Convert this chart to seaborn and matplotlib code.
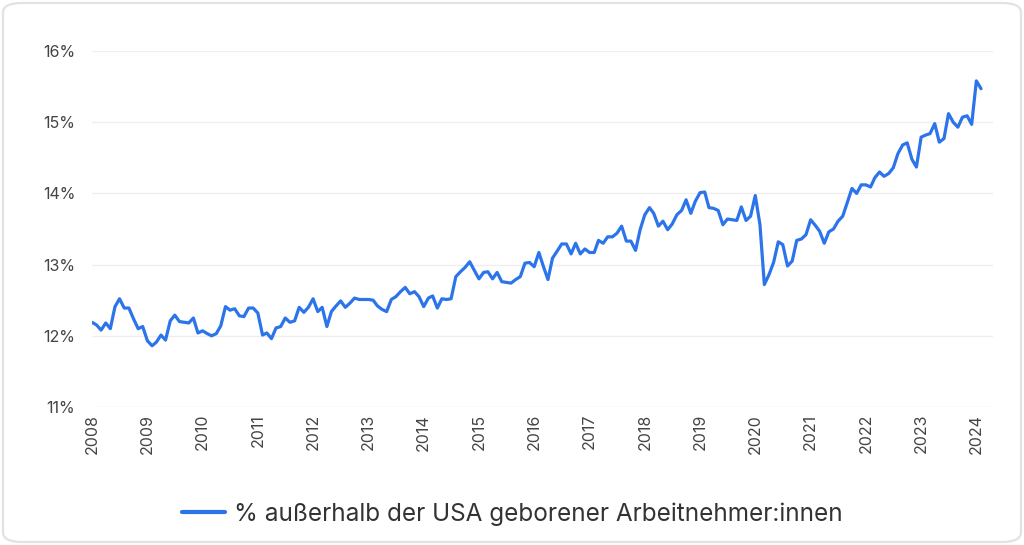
import matplotlib
matplotlib.use("Agg")
import matplotlib.pyplot as plt
from matplotlib.patches import FancyBboxPatch
import seaborn as sns
import pandas as pd

# ---- data (monthly, Jan 2008 - Feb 2024), share in % ----
v2008 = [12.19, 12.15, 12.08, 12.18, 12.10, 12.41, 12.52, 12.39, 12.39, 12.24, 12.10, 12.13]
v2009 = [11.93, 11.86, 11.91, 12.01, 11.94, 12.21, 12.29, 12.20, 12.19, 12.18, 12.25, 12.04]
v2010 = [12.07, 12.03, 12.00, 12.03, 12.14, 12.41, 12.36, 12.38, 12.28, 12.27, 12.39, 12.39]
v2011 = [12.32, 12.01, 12.04, 11.96, 12.11, 12.13, 12.25, 12.19, 12.21, 12.40, 12.33, 12.40]
v2012 = [12.52, 12.34, 12.40, 12.13, 12.34, 12.42, 12.49, 12.40, 12.46, 12.53, 12.51, 12.51]
v2013 = [12.51, 12.50, 12.42, 12.37, 12.34, 12.51, 12.55, 12.62, 12.68, 12.59, 12.62, 12.55]
v2014 = [12.41, 12.53, 12.56, 12.39, 12.52, 12.51, 12.52, 12.83, 12.90, 12.96, 13.04, 12.92]
v2015 = [12.80, 12.89, 12.90, 12.80, 12.89, 12.76, 12.75, 12.74, 12.79, 12.83, 13.02, 13.03]
v2016 = [12.97, 13.17, 12.98, 12.79, 13.09, 13.19, 13.29, 13.29, 13.15, 13.30, 13.15, 13.22]
v2017 = [13.17, 13.17, 13.34, 13.30, 13.39, 13.39, 13.44, 13.54, 13.33, 13.33, 13.20, 13.49]
v2018 = [13.70, 13.80, 13.72, 13.54, 13.61, 13.49, 13.57, 13.70, 13.76, 13.91, 13.72, 13.89]
v2019 = [14.01, 14.02, 13.80, 13.79, 13.76, 13.56, 13.64, 13.63, 13.62, 13.81, 13.62, 13.68]
v2020 = [13.97, 13.56, 12.72, 12.86, 13.03, 13.32, 13.28, 12.98, 13.05, 13.34, 13.36, 13.42]
v2021 = [13.63, 13.55, 13.47, 13.30, 13.46, 13.50, 13.61, 13.68, 13.88, 14.07, 14.00, 14.12]
v2022 = [14.12, 14.09, 14.22, 14.30, 14.24, 14.28, 14.36, 14.56, 14.68, 14.71, 14.48, 14.37]
v2023 = [14.79, 14.82, 14.84, 14.98, 14.72, 14.77, 15.12, 15.00, 14.93, 15.07, 15.09, 14.97]
v2024 = [15.58, 15.47]

series_label = "% außerhalb der USA geborener Arbeitnehmer:innen"
year_ticks = list(range(2008, 2025))
y_ticks = [11, 12, 13, 14, 15, 16]

values = (v2008 + v2009 + v2010 + v2011 + v2012 + v2013 + v2014 + v2015 +
          v2016 + v2017 + v2018 + v2019 + v2020 + v2021 + v2022 + v2023 + v2024)
dates = pd.date_range("2008-01-01", periods=len(values), freq="MS")
df = pd.DataFrame({"date": dates, "value": values})

sns.set_theme(style="white")
plt.rcParams["font.family"] = ["Inter", "DejaVu Sans"]

W, H = 1024, 545
fig = plt.figure(figsize=(W / 100, H / 100), dpi=100)
fig.patch.set_facecolor("white")

# rounded border around the card
border = FancyBboxPatch((3 / W, 3 / H), (W - 6) / W, (H - 6) / H,
                        boxstyle="round,pad=0,rounding_size=0.018",
                        transform=fig.transFigure, facecolor="none",
                        edgecolor="#e2e2e2", linewidth=1.6, zorder=-5)
fig.patches.append(border)

left, right = 92 / W, 993 / W
top, bottom = 1 - 51 / H, 1 - 407 / H
ax = fig.add_axes([left, bottom, right - left, top - bottom], zorder=2)
ax.set_facecolor("none")

line_color = "#2c74ea"
sns.lineplot(data=df, x="date", y="value", ax=ax, color=line_color,
             linewidth=2.3, label=series_label, legend=False)

ax.set_ylim(11, 16)
ax.set_xlim(pd.Timestamp("2008-01-01"), pd.Timestamp("2024-04-20"))
ax.set_yticks(y_ticks)
ax.set_yticklabels([f"{t}%" for t in y_ticks])
ax.set_xticks([pd.Timestamp(f"{y}-01-01") for y in year_ticks])
ax.set_xticklabels([str(y) for y in year_ticks], rotation=90)

ax.grid(axis="y", color="#efefef", linewidth=1.0)
ax.grid(axis="x", visible=False)
for s in ax.spines.values():
    s.set_visible(False)
ax.tick_params(axis="both", length=0, labelsize=11.5, labelcolor="#444444")
ax.tick_params(axis="y", pad=12)
ax.tick_params(axis="x", pad=5)
ax.set_xlabel("")
ax.set_ylabel("")

handles, labels = ax.get_legend_handles_labels()
leg = fig.legend(handles, labels, loc="center", bbox_to_anchor=(0.5, 1 - 514 / H),
                 frameon=False, fontsize=17.5, handlelength=1.8, handletextpad=0.35,
                 labelcolor="#333333")
for lh in leg.get_lines():
    lh.set_linewidth(3)

fig.savefig("out.png", dpi=100, facecolor="white")
